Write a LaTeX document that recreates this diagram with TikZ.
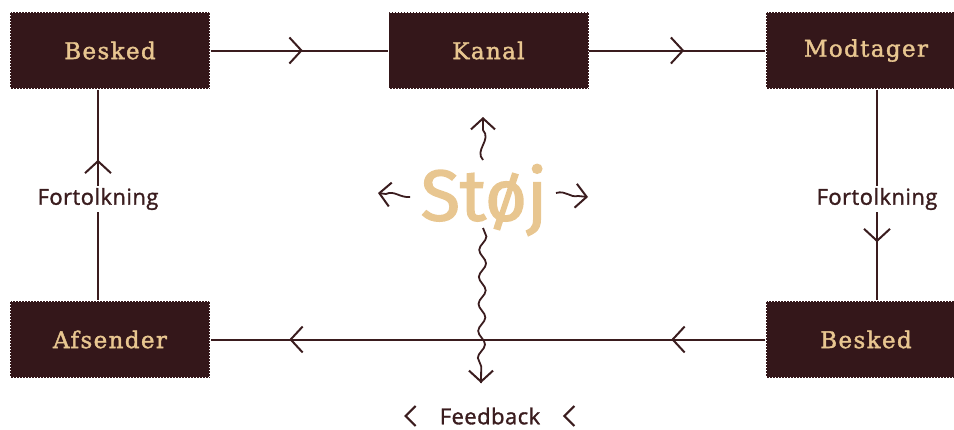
\documentclass[tikz,border=0pt]{standalone}
\usepackage{fontspec}
\setmainfont{DejaVu Serif}[LetterSpace=6,FakeBold=1.6]
\newfontfamily\labelfont{Open Sans}[FakeBold=1.4,LetterSpace=2]
\newfontfamily\noisefont{Fira Sans}[FakeBold=2]
\usetikzlibrary{arrows.meta,decorations.markings,decorations.pathmorphing}
\definecolor{boxfill}{HTML}{34171A}
\definecolor{gold}{HTML}{E8C690}
\definecolor{ink}{HTML}{3A1C1E}
\tikzset{
  stage/.style={rectangle, fill=boxfill, draw=white, dash pattern=on 1.4pt off 1.6pt, line width=1.4pt,
    minimum width=200pt, minimum height=77pt, inner sep=0pt,
    text=gold, font=\fontsize{23}{26}\selectfont},
  conn/.style={draw=ink, line width=2pt},
  barb/.tip={Straight Barb[length=12pt,width=26pt,line width=2pt]},
  midarrow/.style={postaction={decorate}, decoration={markings, mark=at position #1 with {\arrow{barb}}}},
  twoarrows/.style 2 args={postaction={decorate}, decoration={markings,
     mark=at position #1 with {\arrow{barb}}, mark=at position #2 with {\arrow{barb}}}},
  interp/.style={text=ink, font=\labelfont\fontsize{22}{24}\selectfont, inner sep=2pt},
  wavy/.style={draw=ink, line width=1.8pt, decorate,
    decoration={snake, amplitude=3.5pt, segment length=27pt, post length=4pt}},
  wavyhead/.style={-{Straight Barb[length=11pt,width=24pt,line width=2pt]}},
}
\begin{document}
\begin{tikzpicture}[x=1pt,y=-1pt]
\useasboundingbox (0,0) rectangle (954,429);
% nodes
\node[stage] (b1) at (110,50.5) {Besked};
\node[stage] (kanal) at (488.5,50.5) {Kanal};
\node[stage] (modt) at (866,50.5) {Modtager};
\node[stage] (afs) at (110,339.5) {Afsender};
\node[stage] (b2) at (866,339.5) {Besked};
\node[interp] (fl) at (98,199) {Fortolkning};
\node[interp] (fr) at (877,199) {Fortolkning};
\node[text=gold, font=\noisefont\fontsize{72}{80}\selectfont, inner sep=0pt] (stoj) at (484,200) {Støj};
\node[interp] (fb) at (490,416) {Feedback};
% connectors
\draw[conn, midarrow=0.52] (b1.east) -- (kanal.west);
\draw[conn, midarrow=0.54] (kanal.east) -- (modt.west);
\draw[conn, twoarrows={94pt}{476pt}] (b2.west) -- (afs.east);
\draw[conn] (fl.south) -- (fl.south |- afs.north);
\draw[conn, midarrow=26pt] (fl.north) -- (fl.north |- b1.south);
\draw[conn] (fr.north) -- (fr.north |- modt.south);
\draw[conn, midarrow=30pt] (fr.south) -- (fr.south |- b2.north);
% noise arrows
\coordinate (nu0) at (483,160);
\coordinate (nu1) at (483,117);
\coordinate (nl0) at (410,197);
\coordinate (nl1) at (378,193);
\coordinate (nr0) at (556,193);
\coordinate (nr1) at (588,197);
\coordinate (nd0) at (483,228);
\coordinate (nd1) at (481,383);
\draw[draw=ink, line width=1.8pt, wavyhead] (nu0) .. controls (474,150) and (492,140) .. (483,130) -- (nu1);
\draw[draw=ink, line width=1.8pt, wavyhead] (nl0) .. controls (400,198) and (394,190) .. (386,194) -- (nl1);
\draw[draw=ink, line width=1.8pt, wavyhead] (nr0) .. controls (566,190) and (570,198) .. (578,196) -- (nr1);
\draw[wavy] (nd0) -- (nd1);
\draw[draw=ink, line width=1.8pt, wavyhead] (481,372) -- (nd1);
% feedback chevrons
\draw[draw=ink, line width=2pt] ([shift={(-22,-10)}]fb.west) -- ++(-10,10) -- ++(10,10);
\draw[draw=ink, line width=2pt] ([shift={(32,-10)}]fb.east) -- ++(-10,10) -- ++(10,10);
\end{tikzpicture}
\end{document}
